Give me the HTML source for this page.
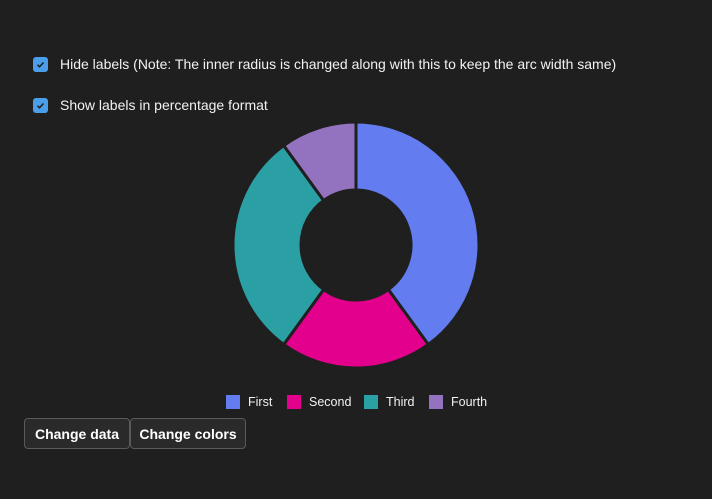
<!DOCTYPE html>
<html><head><meta charset="utf-8"><style>
body{margin:0;background:#1f1f1f;width:712px;height:499px;overflow:hidden;font-family:"Liberation Sans",sans-serif;color:#fff;position:relative}
.cb{position:absolute;left:33px;width:15px;height:15px;background:#4a9eea;border-radius:3px}
.cb svg{position:absolute;left:0;top:0}
.lbl{position:absolute;left:60px;font-size:14px;color:#f2f2f2}
.btn{position:absolute;top:418px;height:31px;border:1px solid #5a5a5a;border-radius:4px;background:#2a2a2a;color:#fff;font-weight:bold;font-size:14px;line-height:31px;text-align:center;box-sizing:border-box}
.leg{position:absolute;top:395px;font-size:12.5px;color:#f2f2f2}
.leg i{position:absolute;left:0;top:0;width:14px;height:14px}
.leg span{position:absolute;left:22px;top:0;white-space:nowrap;line-height:15px}
</style></head><body>
<div class="cb" style="top:57px"><svg width="15" height="15"><path d="M4.5 7.8l2 2 4-4.3" stroke="#1f1f1f" stroke-width="1.5" fill="none"/></svg></div>
<div class="lbl" style="top:56px">Hide labels (Note: The inner radius is changed along with this to keep the arc width same)</div>
<div class="cb" style="top:98px"><svg width="15" height="15"><path d="M4.5 7.8l2 2 4-4.3" stroke="#1f1f1f" stroke-width="1.5" fill="none"/></svg></div>
<div class="lbl" style="top:97px">Show labels in percentage format</div>
<svg id="chart" width="712" height="499" style="position:absolute;left:0;top:0"></svg>
<div class="leg" style="left:226px"><i style="background:#637cef"></i><span>First</span></div>
<div class="leg" style="left:287px"><i style="background:#e3008c"></i><span>Second</span></div>
<div class="leg" style="left:364px"><i style="background:#2aa0a4"></i><span>Third</span></div>
<div class="leg" style="left:429px"><i style="background:#9373c0"></i><span>Fourth</span></div>
<div class="btn" style="left:24px;width:106px">Change data</div>
<div class="btn" style="left:130px;width:116px">Change colors</div>
<script>
const categories=["First","Second","Third","Fourth"];
const values=[40,20,30,10];
const colors=["#637cef","#e3008c","#2aa0a4","#9373c0"];
const svg=document.getElementById('chart');
const cx=356,cy=245,R=123,r=55;
const total=values.reduce((a,b)=>a+b,0);
let a0=0;
function pt(rad,a){return [cx+rad*Math.sin(a),cy-rad*Math.cos(a)];}
values.forEach((v,i)=>{
  const a1=a0+v/total*2*Math.PI;
  const large=(a1-a0)>Math.PI?1:0;
  const p1=pt(R,a0),p2=pt(R,a1),p3=pt(r,a1),p4=pt(r,a0);
  const p=document.createElementNS('http://www.w3.org/2000/svg','path');
  p.setAttribute('d',`M${p1[0]},${p1[1]}A${R},${R} 0 ${large} 1 ${p2[0]},${p2[1]}L${p3[0]},${p3[1]}A${r},${r} 0 ${large} 0 ${p4[0]},${p4[1]}Z`);
  p.setAttribute('fill',colors[i]);
  p.setAttribute('stroke','#1f1f1f');
  p.setAttribute('stroke-width','3');
  
  
  svg.appendChild(p);
  a0=a1;
});
</script>
</body></html>
